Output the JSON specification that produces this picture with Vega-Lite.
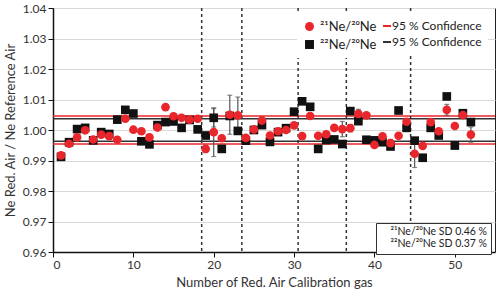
{
  "$schema": "https://vega.github.io/schema/vega-lite/v6.json",
  "width": 442,
  "height": 244,
  "autosize": {"type": "none"},
  "padding": {"left": 53, "top": 8, "right": 5, "bottom": 38},
  "config": {
    "font": "Lato",
    "view": {"stroke": "#222", "strokeWidth": 1},
    "axis": {"labelFont": "Lato", "titleFont": "Lato", "labelColor": "#333", "titleColor": "#333", "titleFontWeight": "normal", "labelFontSize": 12, "titleFontSize": 13, "domainColor": "#111", "domainWidth": 1.5, "tickColor": "#111", "tickSize": 5, "labelOverlap": false},
    "axisY": {"values": [0.96, 0.97, 0.98, 0.99, 1.0, 1.01, 1.02, 1.03, 1.04], "format": ".2f", "gridColor": "#d9d9d9", "titlePadding": 5},
    "axisX": {"values": [0, 10, 20, 30, 40, 50], "grid": false, "titlePadding": 6},
    "legend": {"labelFont": "Lato", "labelColor": "#222"}
  },
  "datasets": {
    "pts": [
      {"n": 1, "series": "²²Ne/²⁰Ne", "value": 0.9912},
      {"n": 2, "series": "²²Ne/²⁰Ne", "value": 0.9960},
      {"n": 3, "series": "²²Ne/²⁰Ne", "value": 1.0003},
      {"n": 4, "series": "²²Ne/²⁰Ne", "value": 1.0007},
      {"n": 5, "series": "²²Ne/²⁰Ne", "value": 0.9966},
      {"n": 6, "series": "²²Ne/²⁰Ne", "value": 0.9993},
      {"n": 7, "series": "²²Ne/²⁰Ne", "value": 0.9987},
      {"n": 8, "series": "²²Ne/²⁰Ne", "value": 1.0034},
      {"n": 9, "series": "²²Ne/²⁰Ne", "value": 1.0066},
      {"n": 10, "series": "²²Ne/²⁰Ne", "value": 1.0054},
      {"n": 11, "series": "²²Ne/²⁰Ne", "value": 0.9963},
      {"n": 12, "series": "²²Ne/²⁰Ne", "value": 0.9953},
      {"n": 13, "series": "²²Ne/²⁰Ne", "value": 1.0016},
      {"n": 14, "series": "²²Ne/²⁰Ne", "value": 1.0026},
      {"n": 15, "series": "²²Ne/²⁰Ne", "value": 1.0028},
      {"n": 16, "series": "²²Ne/²⁰Ne", "value": 1.0007},
      {"n": 17, "series": "²²Ne/²⁰Ne", "value": 1.0033},
      {"n": 18, "series": "²²Ne/²⁰Ne", "value": 1.0002},
      {"n": 19, "series": "²²Ne/²⁰Ne", "value": 0.9982},
      {"n": 20, "series": "²²Ne/²⁰Ne", "value": 1.0040},
      {"n": 21, "series": "²²Ne/²⁰Ne", "value": 0.9938},
      {"n": 22, "series": "²²Ne/²⁰Ne", "value": 1.0046},
      {"n": 23, "series": "²²Ne/²⁰Ne", "value": 0.9997},
      {"n": 24, "series": "²²Ne/²⁰Ne", "value": 0.9965},
      {"n": 25, "series": "²²Ne/²⁰Ne", "value": 1.0000},
      {"n": 26, "series": "²²Ne/²⁰Ne", "value": 1.0016},
      {"n": 27, "series": "²²Ne/²⁰Ne", "value": 0.9961},
      {"n": 28, "series": "²²Ne/²⁰Ne", "value": 0.9993},
      {"n": 29, "series": "²²Ne/²⁰Ne", "value": 1.0006},
      {"n": 30, "series": "²²Ne/²⁰Ne", "value": 1.0060},
      {"n": 31, "series": "²²Ne/²⁰Ne", "value": 1.0094},
      {"n": 32, "series": "²²Ne/²⁰Ne", "value": 1.0076},
      {"n": 33, "series": "²²Ne/²⁰Ne", "value": 0.9938},
      {"n": 34, "series": "²²Ne/²⁰Ne", "value": 0.9967},
      {"n": 35, "series": "²²Ne/²⁰Ne", "value": 0.9969},
      {"n": 36, "series": "²²Ne/²⁰Ne", "value": 0.9954},
      {"n": 37, "series": "²²Ne/²⁰Ne", "value": 1.0062},
      {"n": 38, "series": "²²Ne/²⁰Ne", "value": 1.0029},
      {"n": 39, "series": "²²Ne/²⁰Ne", "value": 0.9968},
      {"n": 40, "series": "²²Ne/²⁰Ne", "value": 0.9966},
      {"n": 41, "series": "²²Ne/²⁰Ne", "value": 0.9960},
      {"n": 42, "series": "²²Ne/²⁰Ne", "value": 0.9946},
      {"n": 43, "series": "²²Ne/²⁰Ne", "value": 1.0064},
      {"n": 44, "series": "²²Ne/²⁰Ne", "value": 1.0007},
      {"n": 45, "series": "²²Ne/²⁰Ne", "value": 0.9965},
      {"n": 46, "series": "²²Ne/²⁰Ne", "value": 0.9909},
      {"n": 47, "series": "²²Ne/²⁰Ne", "value": 1.0007},
      {"n": 48, "series": "²²Ne/²⁰Ne", "value": 0.9982},
      {"n": 49, "series": "²²Ne/²⁰Ne", "value": 1.0110},
      {"n": 50, "series": "²²Ne/²⁰Ne", "value": 0.9949},
      {"n": 51, "series": "²²Ne/²⁰Ne", "value": 1.0055},
      {"n": 52, "series": "²²Ne/²⁰Ne", "value": 1.0026},
      {"n": 1, "series": "²¹Ne/²⁰Ne", "value": 0.9917},
      {"n": 2, "series": "²¹Ne/²⁰Ne", "value": 0.9955},
      {"n": 3, "series": "²¹Ne/²⁰Ne", "value": 0.9976},
      {"n": 4, "series": "²¹Ne/²⁰Ne", "value": 0.9999},
      {"n": 5, "series": "²¹Ne/²⁰Ne", "value": 0.9969},
      {"n": 6, "series": "²¹Ne/²⁰Ne", "value": 0.9985},
      {"n": 7, "series": "²¹Ne/²⁰Ne", "value": 0.9980},
      {"n": 8, "series": "²¹Ne/²⁰Ne", "value": 0.9968},
      {"n": 9, "series": "²¹Ne/²⁰Ne", "value": 1.0037},
      {"n": 10, "series": "²¹Ne/²⁰Ne", "value": 1.0001},
      {"n": 11, "series": "²¹Ne/²⁰Ne", "value": 0.9996},
      {"n": 12, "series": "²¹Ne/²⁰Ne", "value": 0.9976},
      {"n": 13, "series": "²¹Ne/²⁰Ne", "value": 1.0008},
      {"n": 14, "series": "²¹Ne/²⁰Ne", "value": 1.0075},
      {"n": 15, "series": "²¹Ne/²⁰Ne", "value": 1.0045},
      {"n": 16, "series": "²¹Ne/²⁰Ne", "value": 1.0040},
      {"n": 17, "series": "²¹Ne/²⁰Ne", "value": 1.0034},
      {"n": 18, "series": "²¹Ne/²⁰Ne", "value": 1.0037},
      {"n": 19, "series": "²¹Ne/²⁰Ne", "value": 0.9938},
      {"n": 20, "series": "²¹Ne/²⁰Ne", "value": 0.9993},
      {"n": 21, "series": "²¹Ne/²⁰Ne", "value": 0.9973},
      {"n": 22, "series": "²¹Ne/²⁰Ne", "value": 1.0050},
      {"n": 23, "series": "²¹Ne/²⁰Ne", "value": 1.0048},
      {"n": 24, "series": "²¹Ne/²⁰Ne", "value": 0.9974},
      {"n": 25, "series": "²¹Ne/²⁰Ne", "value": 1.0002},
      {"n": 26, "series": "²¹Ne/²⁰Ne", "value": 1.0031},
      {"n": 27, "series": "²¹Ne/²⁰Ne", "value": 0.9982},
      {"n": 28, "series": "²¹Ne/²⁰Ne", "value": 0.9996},
      {"n": 29, "series": "²¹Ne/²⁰Ne", "value": 1.0000},
      {"n": 30, "series": "²¹Ne/²⁰Ne", "value": 1.0015},
      {"n": 31, "series": "²¹Ne/²⁰Ne", "value": 0.9980},
      {"n": 32, "series": "²¹Ne/²⁰Ne", "value": 1.0046},
      {"n": 33, "series": "²¹Ne/²⁰Ne", "value": 0.9981},
      {"n": 34, "series": "²¹Ne/²⁰Ne", "value": 0.9986},
      {"n": 35, "series": "²¹Ne/²⁰Ne", "value": 1.0007},
      {"n": 36, "series": "²¹Ne/²⁰Ne", "value": 1.0003},
      {"n": 37, "series": "²¹Ne/²⁰Ne", "value": 1.0006},
      {"n": 38, "series": "²¹Ne/²⁰Ne", "value": 1.0053},
      {"n": 39, "series": "²¹Ne/²⁰Ne", "value": 1.0048},
      {"n": 40, "series": "²¹Ne/²⁰Ne", "value": 0.9951},
      {"n": 41, "series": "²¹Ne/²⁰Ne", "value": 0.9979},
      {"n": 42, "series": "²¹Ne/²⁰Ne", "value": 0.9957},
      {"n": 43, "series": "²¹Ne/²⁰Ne", "value": 0.9981},
      {"n": 44, "series": "²¹Ne/²⁰Ne", "value": 1.0027},
      {"n": 45, "series": "²¹Ne/²⁰Ne", "value": 0.9922},
      {"n": 46, "series": "²¹Ne/²⁰Ne", "value": 0.9948},
      {"n": 47, "series": "²¹Ne/²⁰Ne", "value": 1.0026},
      {"n": 48, "series": "²¹Ne/²⁰Ne", "value": 0.9996},
      {"n": 49, "series": "²¹Ne/²⁰Ne", "value": 1.0066},
      {"n": 50, "series": "²¹Ne/²⁰Ne", "value": 1.0013},
      {"n": 51, "series": "²¹Ne/²⁰Ne", "value": 1.0049},
      {"n": 52, "series": "²¹Ne/²⁰Ne", "value": 0.9985}
    ],
    "err": [
      {"n": 19, "value": 0.9938, "err": 0.0012},
      {"n": 20, "value": 0.9993, "err": 0.008},
      {"n": 20, "value": 1.0040, "err": 0.003},
      {"n": 22, "value": 1.0050, "err": 0.0064},
      {"n": 23, "value": 1.0048, "err": 0.006},
      {"n": 26, "value": 1.0031, "err": 0.0012},
      {"n": 36, "value": 1.0003, "err": 0.0025},
      {"n": 37, "value": 1.0006, "err": 0.0012},
      {"n": 38, "value": 1.0053, "err": 0.0015},
      {"n": 42, "value": 0.9957, "err": 0.0012},
      {"n": 45, "value": 0.9922, "err": 0.0045},
      {"n": 49, "value": 1.0066, "err": 0.0018},
      {"n": 52, "value": 0.9985, "err": 0.0025}
    ],
    "bands": [
      {"band": "c21", "value": 1.0046},
      {"band": "c21", "value": 0.9954},
      {"band": "c22", "value": 1.0037},
      {"band": "c22", "value": 0.9963}
    ],
    "breaks": [
      {"n": 18.5}, {"n": 23.5}, {"n": 30.5}, {"n": 36.5}, {"n": 44.5}
    ],
    "sd": [
      {"sd": "²¹Ne/²⁰Ne SD 0.46 %"},
      {"sd": "²²Ne/²⁰Ne SD 0.37 %"}
    ]
  },
  "layer": [
    {
      "data": {"name": "bands"},
      "mark": {"type": "rule", "strokeWidth": 1.5},
      "encoding": {
        "y": {"field": "value", "type": "quantitative", "scale": {"domain": [0.96, 1.04], "nice": false}, "title": "Ne Red. Air / Ne Reference Air"},
        "stroke": {"field": "band", "type": "nominal", "scale": {"domain": ["c21", "c22"], "range": ["#e8262b", "#333333"]},
          "legend": {"title": null, "orient": "none", "legendX": 316, "legendY": 6, "padding": 6, "fillColor": "white", "symbolType": "M-2,0H2", "symbolSize": 100, "symbolStrokeWidth": 2, "labelOffset": 5, "labelExpr": "'95 % Confidence'", "labelFontSize": 12, "rowPadding": 4}}
      }
    },
    {
      "data": {"name": "breaks"},
      "mark": {"type": "rule", "strokeDash": [3, 3], "color": "#333", "strokeWidth": 1.5},
      "encoding": {
        "x": {"field": "n", "type": "quantitative", "scale": {"domain": [0, 55], "nice": false}, "title": "Number of Red. Air Calibration gas", "axis": {"values": [0, 10, 20, 30, 40, 50]}}
      }
    },
    {
      "data": {"name": "err"},
      "mark": {"type": "errorbar", "ticks": true, "color": "#555", "thickness": 1.2},
      "encoding": {
        "x": {"field": "n", "type": "quantitative", "title": "Number of Red. Air Calibration gas", "axis": {"values": [0, 10, 20, 30, 40, 50]}},
        "y": {"field": "value", "type": "quantitative", "title": "Ne Red. Air / Ne Reference Air"},
        "yError": {"field": "err"}
      }
    },
    {
      "data": {"name": "pts"},
      "mark": {"type": "point", "filled": true, "opacity": 1, "size": 75},
      "encoding": {
        "x": {"field": "n", "type": "quantitative", "title": "Number of Red. Air Calibration gas", "axis": {"values": [0, 10, 20, 30, 40, 50]}},
        "y": {"field": "value", "type": "quantitative", "title": "Ne Red. Air / Ne Reference Air"},
        "color": {"field": "series", "type": "nominal", "scale": {"domain": ["²¹Ne/²⁰Ne", "²²Ne/²⁰Ne"], "range": ["#e8262b", "#111111"]},
          "legend": {"title": null, "orient": "none", "legendX": 244, "legendY": 6, "padding": 6, "fillColor": "white", "symbolSize": 80, "labelFontSize": 13, "rowPadding": 3, "symbolOpacity": 1}},
        "shape": {"field": "series", "type": "nominal", "scale": {"domain": ["²¹Ne/²⁰Ne", "²²Ne/²⁰Ne"], "range": ["circle", "square"]},
          "legend": {"title": null, "orient": "none", "legendX": 244, "legendY": 6, "padding": 6, "fillColor": "white", "symbolSize": 80, "labelFontSize": 13, "rowPadding": 3, "symbolOpacity": 1}}
      }
    },
    {
      "data": {"name": "sd"},
      "mark": {"type": "point", "size": 0, "opacity": 0},
      "encoding": {
        "fill": {"field": "sd", "type": "nominal", "scale": {"domain": ["²¹Ne/²⁰Ne SD 0.46 %", "²²Ne/²⁰Ne SD 0.37 %"], "range": ["#ffffff", "#ffffff"]},
          "legend": {"title": null, "orient": "none", "legendX": 323, "legendY": 215, "padding": 4, "fillColor": "white", "strokeColor": "#333", "symbolSize": 0, "symbolStrokeWidth": 0, "labelOffset": 0, "labelFontSize": 10.5, "rowPadding": 1}}
      }
    }
  ]
}
